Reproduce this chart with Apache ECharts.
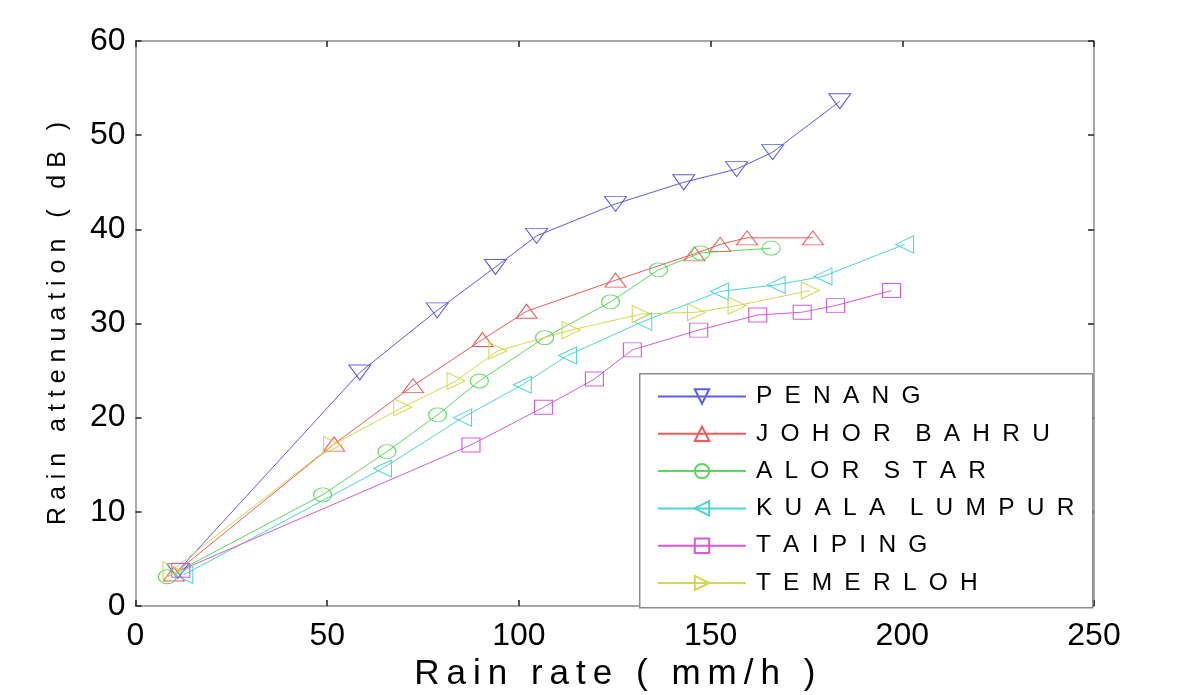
<!DOCTYPE html>
<html>
<head>
<meta charset="utf-8">
<script src="https://cdn.jsdelivr.net/npm/echarts@6/dist/echarts.min.js"></script>
<style>html,body{margin:0;padding:0;background:#fff}#c{width:1200px;height:695px}</style>
</head>
<body>
<div id="c"></div>
<script>
const seriesNames = ['PENANG', 'JOHOR BAHRU', 'ALOR STAR', 'KUALA LUMPUR', 'TAIPING', 'TEMERLOH'];

const penangRate  = [11, 58.5, 78.7, 93.9, 104.6, 125.2, 143, 156.8, 166.2, 183.7];
const penangAtten = [3.7, 24.8, 31.4, 36.0, 39.3, 42.7, 45.0, 46.4, 48.2, 53.6];

const johorRate  = [10, 51.8, 72.4, 90.5, 102, 125.2, 145.8, 152.5, 159.5, 176.7];
const johorAtten = [3.4, 17.2, 23.4, 28.3, 31.3, 34.6, 37.4, 38.4, 39.1, 39.1];

const alorRate  = [8.3, 48.8, 65.6, 78.8, 89.7, 106.7, 123.9, 136.4, 147.4, 165.8];
const alorAtten = [3.1, 11.8, 16.4, 20.3, 23.9, 28.5, 32.3, 35.7, 37.5, 38.0];

const klRate  = [12.6, 64.4, 85.3, 100.9, 112.7, 132.3, 152.3, 167.1, 179.3, 200.6];
const klAtten = [3.3, 14.6, 20.0, 23.5, 26.6, 30.2, 33.4, 34.1, 35.0, 38.4];

const taipingRate  = [11.8, 87.5, 106.4, 119.7, 129.6, 146.9, 162.3, 173.9, 182.6, 197.2];
const taipingAtten = [3.8, 17.1, 21.1, 24.1, 27.2, 29.3, 30.9, 31.2, 31.9, 33.5];

const temerlohRate  = [9.5, 51.4, 69.7, 83.6, 94.5, 113.6, 131.9, 146.3, 156.9, 176.0];
const temerlohAtten = [3.8, 17.1, 21.1, 23.9, 27.1, 29.3, 31.0, 31.2, 31.9, 33.5];

const xTicks = [0, 50, 100, 150, 200, 250];
const yTicks = [0, 10, 20, 30, 40, 50, 60];

const colors = ['#5c5ce8', '#ee5a5a', '#5ada5a', '#4fd4d4', '#d45cd4', '#d6d64e'];
const symbols = ['triangle', 'triangle', 'circle', 'triangle', 'rect', 'triangle'];
const rotations = [180, 0, 0, 90, 0, -90];
const sizes = [[22, 15], [21, 14], [18, 14], [17, 18], [18, 14], [17, 18]];

const xs = [penangRate, johorRate, alorRate, klRate, taipingRate, temerlohRate];
const ys = [penangAtten, johorAtten, alorAtten, klAtten, taipingAtten, temerlohAtten];

function zip(a, b) { return a.map((v, i) => [v, b[i]]); }
function spaced(s, sep) { return s.split('').join(sep); }
function spacedWords(s, sep, wsep) { return s.split(' ').map(w => w.split('').join(sep)).join(wsep); }

const series = seriesNames.map((name, i) => ({
  name: name,
  type: 'line',
  xAxisIndex: 0,
  yAxisIndex: 0,
  data: zip(xs[i], ys[i]),
  symbol: symbols[i],
  symbolRotate: rotations[i],
  symbolSize: sizes[i],
  showAllSymbol: true,
  lineStyle: { color: colors[i], width: 1 },
  itemStyle: { color: 'rgba(255,255,255,0)', borderColor: colors[i], borderWidth: 1 },
  emphasis: { disabled: true },
  z: 3
}));

const font = 'Liberation Sans, Arial, sans-serif';
function axis(kind, pos, extra) {
  const t = kind === 'x' ? xTicks : yTicks;
  return Object.assign({
    type: 'value', position: pos, min: t[0], max: t[t.length - 1], interval: t[1] - t[0],
    axisLine: { show: true, onZero: false, lineStyle: { color: '#8c8c8c', width: 1.5 } },
    axisTick: { show: true, inside: true, length: 6, lineStyle: { color: '#222', width: 1.5 } },
    splitLine: { show: false }, axisLabel: { show: false }
  }, extra || {});
}

const chart = echarts.init(document.getElementById('c'));
chart.setOption({
  animation: false,
  backgroundColor: '#fff',
  grid: { left: 135.5, right: 106, top: 41, bottom: 89, containLabel: false, outerBoundsMode: 'none' },
  xAxis: [
    axis('x', 'bottom', {
      axisLabel: { show: true, margin: 14, fontSize: 32, color: '#000', fontFamily: font },
      name: spaced('Rain rate ( mm/h )', '\u2009'), nameLocation: 'middle', nameGap: 32,
      nameTextStyle: { fontSize: 35, color: '#000', fontFamily: font }
    }),
    axis('x', 'top')
  ],
  yAxis: [
    axis('y', 'left', {
      axisLabel: { show: true, margin: 10, fontSize: 32, color: '#000', fontFamily: font },
      name: spaced('Rain attenuation ( dB )', ' '), nameLocation: 'middle', nameGap: 65, nameRotate: 90,
      nameTextStyle: { fontSize: 25, color: '#000', fontFamily: font }
    }),
    axis('y', 'right')
  ],
  graphic: [{
    type: 'rect', left: 639, top: 373, z: 2,
    shape: { width: 453, height: 234 },
    style: { fill: '#fff', stroke: '#8c8c8c', lineWidth: 1.5 }
  }],
  legend: {
    orient: 'vertical', left: 657, top: 384, padding: 0,
    itemWidth: 88, itemHeight: 18, itemGap: 12.3,
    data: seriesNames,
    formatter: n => '\u2009' + spacedWords(n, '\u2002', '\u2002\u2002'),
    textStyle: { fontSize: 24.5, color: '#000', fontFamily: font },
    selectedMode: false, z: 5
  },
  series: series
});
</script>
</body>
</html>
